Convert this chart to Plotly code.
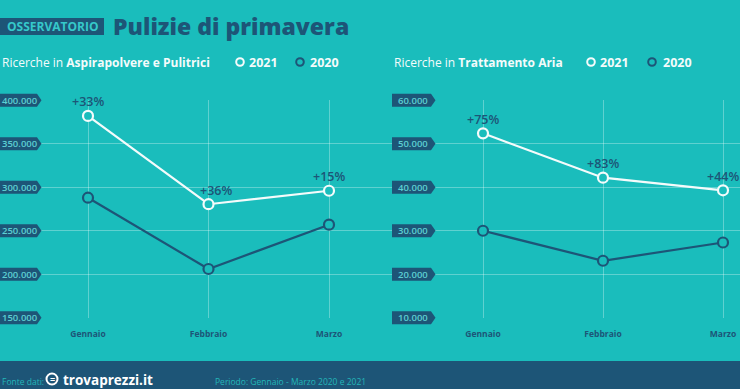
import plotly.graph_objects as go

# ---------------- data ----------------
months = ["Gennaio", "Febbraio", "Marzo"]
aspira_2021 = [382000, 280500, 296000]
aspira_2020 = [288000, 206000, 257000]
aspira_pct = ["+33%", "+36%", "+15%"]
aria_2021 = [52400, 42200, 39300]
aria_2020 = [30000, 23100, 27300]
aria_pct = ["+75%", "+83%", "+44%"]
aspira_ticks = [150000, 200000, 250000, 300000, 350000, 400000]
aria_ticks = [10000, 20000, 30000, 40000, 50000, 60000]

# ---------------- style ----------------
BG = "#1abdbc"
DARK = "#1d5577"
WHITE = "#f4fbfb"
TICKTXT = "#5ccfd2"
FONT = "Open Sans"
W, H = 740, 389

def px(x):
    return x / W

def py(y):
    return 1 - y / H

def fmt(v):
    return f"{v:,}".replace(",", ".")

fig = go.Figure()

for xa, ya, s21, s20 in [("x", "y", aspira_2021, aspira_2020), ("x2", "y2", aria_2021, aria_2020)]:
    fig.add_trace(go.Scatter(x=months, y=s20, xaxis=xa, yaxis=ya, mode="lines+markers",
                             line=dict(color=DARK, width=2.2),
                             marker=dict(symbol="circle", size=10, color=BG,
                                         line=dict(color=DARK, width=2.2)),
                             showlegend=False, cliponaxis=False, hoverinfo="skip"))
    fig.add_trace(go.Scatter(x=months, y=s21, xaxis=xa, yaxis=ya, mode="lines+markers",
                             line=dict(color=WHITE, width=2.2),
                             marker=dict(symbol="circle", size=10, color=BG,
                                         line=dict(color=WHITE, width=2.2)),
                             showlegend=False, cliponaxis=False, hoverinfo="skip"))

ydom = [py(318), py(100)]
yr1 = [149700, 400300]
yr2 = [9940, 60060]
grid = "rgba(255,255,255,0.3)"
common_x = dict(type="category", showgrid=True, gridcolor=grid, gridwidth=1,
                zeroline=False, showline=False, ticks="",
                tickfont=dict(family=FONT, size=8.5, color=DARK, weight=700),
                ticklabelstandoff=9)
common_y = dict(showgrid=True, gridcolor=grid, gridwidth=1, zeroline=False,
                showline=False, showticklabels=False, ticks="")

fig.update_layout(
    width=W, height=H,
    margin=dict(l=0, r=0, t=0, b=0),
    paper_bgcolor=BG, plot_bgcolor=BG,
    showlegend=False,
    xaxis=dict(domain=[0, px(380)], range=[-88 / 120.5, 2 + 51 / 120.5], **common_x),
    yaxis=dict(domain=ydom, range=yr1, tickvals=aspira_ticks, **common_y),
    xaxis2=dict(domain=[px(380), 1], range=[-103 / 120, 2 + 17 / 120], anchor="y2", **common_x),
    yaxis2=dict(domain=ydom, range=yr2, tickvals=aria_ticks, anchor="x2", **common_y),
)

def to_paper(v, rng):
    return ydom[0] + (v - rng[0]) / (rng[1] - rng[0]) * (ydom[1] - ydom[0])

shapes = []
ann = []

# y tick label boxes (drawn in paper space so they are not clipped by the plot area)
for ticks, rng, x0, bw in [(aspira_ticks, yr1, 0, 37), (aria_ticks, yr2, 392, 39)]:
    for t in ticks:
        yp = to_paper(t, rng)
        shapes.append(dict(type="path", xref="paper", yref="paper",
                           xsizemode="pixel", ysizemode="pixel",
                           xanchor=px(x0), yanchor=yp,
                           path=f"M0,-6.5 L{bw},-6.5 L{bw+4.5},0 L{bw},6.5 L0,6.5 Z",
                           fillcolor=DARK, line=dict(width=0), layer="above"))
        ann.append(dict(x=px(x0 + bw / 2 + 1), y=yp, xref="paper", yref="paper",
                        text=fmt(t), showarrow=False, xanchor="center", yanchor="middle",
                        font=dict(family=FONT, size=9.5, color=TICKTXT, weight=600)))

# percentage labels
for xr, yr, vals, pcts, shifts in [("x", "y", aspira_2021, aspira_pct, [0, 7, 0]),
                                   ("x2", "y2", aria_2021, aria_pct, [0, 0, 0])]:
    for m, v, p, sx in zip(months, vals, pcts, shifts):
        ann.append(dict(x=m, y=v, xref=xr, yref=yr, text=p, showarrow=False,
                        yshift=14, xshift=sx, yanchor="middle",
                        font=dict(family=FONT, size=12.5, color=DARK, weight=600)))

# title
shapes.append(dict(type="rect", xref="paper", yref="paper", x0=0, x1=px(104),
                   y0=py(35), y1=py(18), fillcolor=DARK, line=dict(width=0)))
ann.append(dict(x=px(52), y=py(26.5), xref="paper", yref="paper", text="<b>OSSERVATORIO</b>",
                showarrow=False, xanchor="center", yanchor="middle",
                font=dict(family=FONT, size=12, color="#35c9ca", weight=800)))
ann.append(dict(x=px(111), y=py(26), xref="paper", yref="paper", text="Pulizie di primavera",
                showarrow=False, xanchor="left", yanchor="middle",
                font=dict(family=FONT, size=23, color=DARK, weight=800)))

# subtitles + legends
for x_sub, text, c21, t21, c20, t20 in [
        (0, "Ricerche in <b>Aspirapolvere e Pulitrici</b>", 240, 247, 300, 308),
        (392, "Ricerche in <b>Trattamento Aria</b>", 591, 598, 652, 661)]:
    ann.append(dict(x=px(x_sub), y=py(62), xref="paper", yref="paper", text=text,
                    showarrow=False, xanchor="left", yanchor="middle",
                    font=dict(family=FONT, size=12, color=WHITE)))
    for cx, tx, col, lab in [(c21, t21, WHITE, "2021"), (c20, t20, DARK, "2020")]:
        shapes.append(dict(type="circle", xref="paper", yref="paper",
                           xsizemode="pixel", ysizemode="pixel",
                           xanchor=px(cx), yanchor=py(62),
                           x0=-3.8, x1=3.8, y0=-3.8, y1=3.8,
                           line=dict(color=col, width=2), fillcolor="rgba(0,0,0,0)"))
        ann.append(dict(x=px(tx), y=py(62), xref="paper", yref="paper", text=f"<b>{lab}</b>",
                        showarrow=False, xanchor="left", yanchor="middle",
                        font=dict(family=FONT, size=12.5, color=WHITE)))

# footer
shapes.append(dict(type="rect", xref="paper", yref="paper", x0=0, x1=1,
                   y0=0, y1=py(361), fillcolor=DARK, line=dict(width=0), layer="below"))
ann.append(dict(x=0, y=py(381), xref="paper", yref="paper", text="Fonte dati:",
                showarrow=False, xanchor="left", yanchor="middle",
                font=dict(family=FONT, size=8.5, color="#22b6b8")))
shapes.append(dict(type="circle", xref="paper", yref="paper",
                   xsizemode="pixel", ysizemode="pixel",
                   xanchor=px(52), yanchor=py(379),
                   x0=-5.5, x1=5.5, y0=-5.5, y1=5.5,
                   line=dict(color="white", width=2), fillcolor="rgba(0,0,0,0)"))
ann.append(dict(x=px(52), y=py(379), xref="paper", yref="paper", text="<b>=</b>",
                showarrow=False, xanchor="center", yanchor="middle",
                font=dict(family=FONT, size=9, color="white")))
ann.append(dict(x=px(61), y=py(380), xref="paper", yref="paper", text="<b>trovaprezzi.it</b>",
                showarrow=False, xanchor="left", yanchor="middle",
                font=dict(family=FONT, size=13.5, color="white")))
ann.append(dict(x=px(213), y=py(381), xref="paper", yref="paper",
                text="Periodo: Gennaio - Marzo 2020 e 2021",
                showarrow=False, xanchor="left", yanchor="middle",
                font=dict(family=FONT, size=8.5, color="#22b6b8")))

fig.update_layout(shapes=shapes, annotations=ann, hovermode=False)
fig.write_html("out.html", config={"displayModeBar": False, "staticPlot": True},
               post_script="document.body.style.margin='0';document.body.style.overflow='hidden';")
